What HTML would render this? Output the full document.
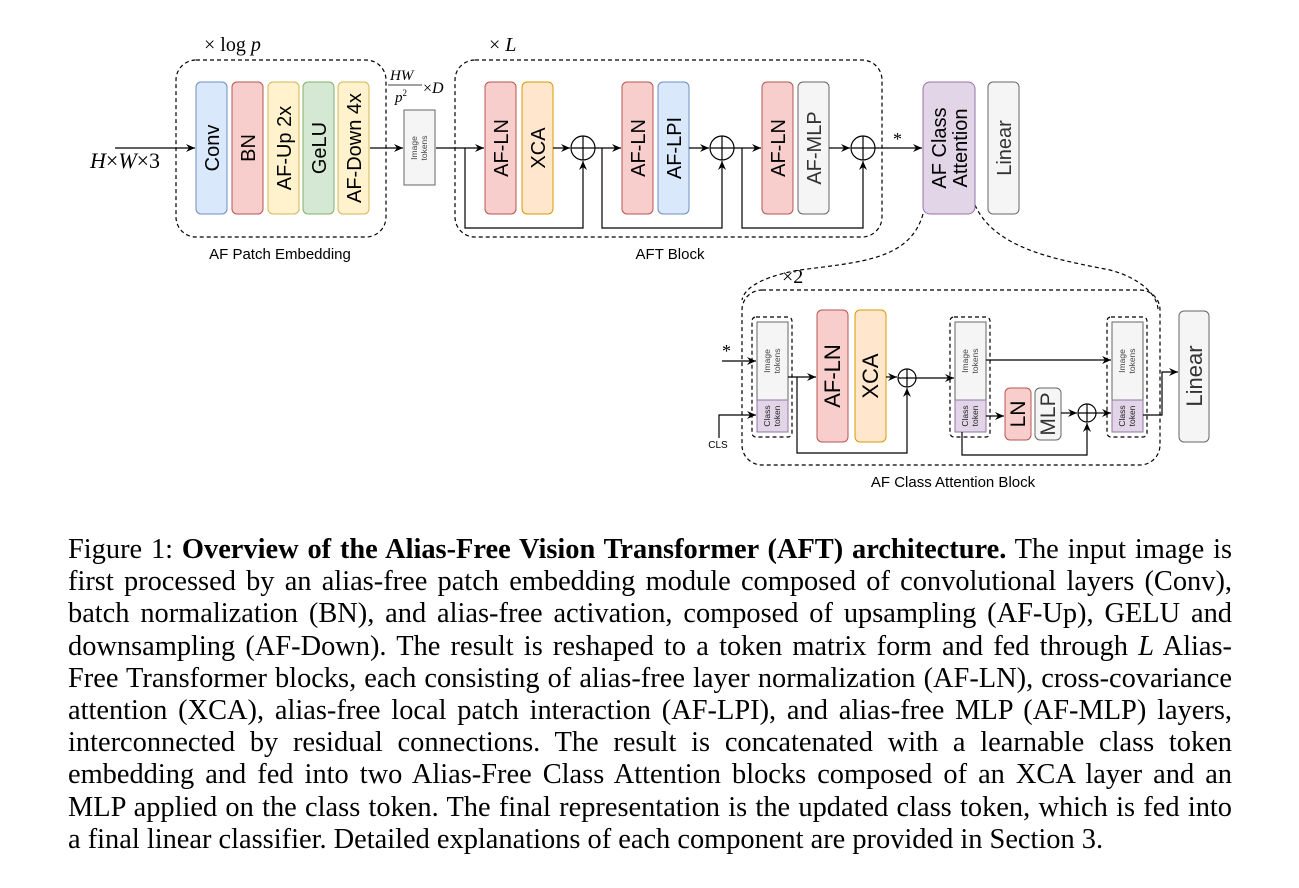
<!DOCTYPE html>
<html><head><meta charset="utf-8"><style>
body{margin:0;width:1299px;height:888px;background:#fff;position:relative;overflow:hidden}
svg{position:absolute;left:0;top:0}
.cap{position:absolute;left:68px;top:534px;width:1164px;font-family:"Liberation Serif",serif;font-size:28.4px;line-height:32.2px;color:#000}
.cap div{text-align:justify;text-align-last:justify;white-space:nowrap}
.cap div.l{text-align-last:left}
</style></head><body>
<svg width="1299" height="888" viewBox="0 0 1299 888" font-family="Liberation Sans, sans-serif">
<defs><marker id="a" markerWidth="10" markerHeight="10" refX="9" refY="5" orient="auto" markerUnits="userSpaceOnUse"><path d="M0,1 L9,5 L0,9 L3,5z" fill="#000"/></marker></defs>
<g fill="none" stroke="#000" stroke-width="1.2" stroke-dasharray="4,3">
<rect x="176" y="60" width="210" height="177" rx="20"/>
<rect x="455" y="60" width="427" height="177" rx="20"/>
<rect x="742" y="290" width="418" height="175" rx="20"/>
<rect x="752" y="317" width="40" height="120" rx="4"/>
<rect x="950" y="317" width="40" height="120" rx="4"/>
<rect x="1107" y="317" width="40" height="120" rx="4"/>
<path d="M923,214 C910,260 860,262 800,270 C770,275 745,285 742,300"/>
<path d="M975,205 C995,250 1060,260 1110,270 C1140,278 1158,295 1158,310"/>
</g>
<g stroke-width="1">
<rect x="196" y="82" width="31" height="132" rx="5" fill="#dae8fc" stroke="#6c8ebf"/>
<rect x="232" y="82" width="31" height="132" rx="5" fill="#f8cecc" stroke="#b85450"/>
<rect x="268" y="82" width="31" height="132" rx="5" fill="#fff2cc" stroke="#d6b656"/>
<rect x="303" y="82" width="31" height="132" rx="5" fill="#d5e8d4" stroke="#82b366"/>
<rect x="338" y="82" width="31" height="132" rx="5" fill="#fff2cc" stroke="#d6b656"/>
<rect x="404" y="110" width="31" height="75" fill="#f5f5f5" stroke="#666"/>
<rect x="485" y="82" width="31" height="132" rx="5" fill="#f8cecc" stroke="#b85450"/>
<rect x="522" y="82" width="31" height="132" rx="5" fill="#ffe6cc" stroke="#d79b00"/>
<rect x="622" y="82" width="31" height="132" rx="5" fill="#f8cecc" stroke="#b85450"/>
<rect x="658" y="82" width="31" height="132" rx="5" fill="#dae8fc" stroke="#6c8ebf"/>
<rect x="762" y="82" width="31" height="132" rx="5" fill="#f8cecc" stroke="#b85450"/>
<rect x="798" y="82" width="31" height="132" rx="5" fill="#f5f5f5" stroke="#666"/>
<rect x="923" y="82" width="52" height="132" rx="7" fill="#e1d5e7" stroke="#9673a6"/>
<rect x="988" y="82" width="31" height="132" rx="5" fill="#f5f5f5" stroke="#666"/>
<rect x="757" y="322" width="31" height="78" fill="#f5f5f5" stroke="#666"/>
<rect x="757" y="400" width="31" height="32" fill="#e1d5e7" stroke="#9673a6"/>
<rect x="955" y="322" width="31" height="78" fill="#f5f5f5" stroke="#666"/>
<rect x="955" y="400" width="31" height="32" fill="#e1d5e7" stroke="#9673a6"/>
<rect x="1112" y="322" width="31" height="78" fill="#f5f5f5" stroke="#666"/>
<rect x="1112" y="400" width="31" height="32" fill="#e1d5e7" stroke="#9673a6"/>
<rect x="817" y="310" width="31" height="132" rx="5" fill="#f8cecc" stroke="#b85450"/>
<rect x="855" y="310" width="31" height="132" rx="5" fill="#ffe6cc" stroke="#d79b00"/>
<rect x="1005" y="388" width="26" height="52" rx="5" fill="#f8cecc" stroke="#b85450"/>
<rect x="1035" y="388" width="26" height="52" rx="5" fill="#f5f5f5" stroke="#666"/>
<rect x="1179" y="311" width="30" height="131" rx="5" fill="#f5f5f5" stroke="#666"/>
</g>
<g fill="none" stroke="#000" stroke-width="1.2">
<circle cx="583" cy="148" r="12"/><path d="M571,148H595M583,136V160"/>
<circle cx="722" cy="148" r="12"/><path d="M710,148H734M722,136V160"/>
<circle cx="863" cy="148" r="12"/><path d="M851,148H875M863,136V160"/>
<circle cx="907" cy="378" r="9"/><path d="M898,378H916M907,369V387"/>
<circle cx="1087" cy="413" r="9"/><path d="M1078,413H1096M1087,404V422"/>
<path d="M115,148H195" marker-end="url(#a)"/>
<path d="M370,148H403" marker-end="url(#a)"/>
<path d="M436,148H484" marker-end="url(#a)"/>
<path d="M553,148H570" marker-end="url(#a)"/>
<path d="M465,148V228H583V161" marker-end="url(#a)"/>
<path d="M595,148H621" marker-end="url(#a)"/>
<path d="M689,148H709" marker-end="url(#a)"/>
<path d="M602,148V228H722V161" marker-end="url(#a)"/>
<path d="M734,148H761" marker-end="url(#a)"/>
<path d="M829,148H850" marker-end="url(#a)"/>
<path d="M742,148V228H863V161" marker-end="url(#a)"/>
<path d="M875,148H922" marker-end="url(#a)"/>
<path d="M722,361H756" marker-end="url(#a)"/>
<path d="M719,438V415H756" marker-end="url(#a)"/>
<path d="M788,377H816" marker-end="url(#a)"/>
<path d="M886,377H897" marker-end="url(#a)"/>
<path d="M797,377V453H907V388" marker-end="url(#a)"/>
<path d="M916,378H954" marker-end="url(#a)"/>
<path d="M986,360H1111" marker-end="url(#a)"/>
<path d="M986,416H1004" marker-end="url(#a)"/>
<path d="M1061,413H1077" marker-end="url(#a)"/>
<path d="M962,432V455H1087V423" marker-end="url(#a)"/>
<path d="M1096,413H1111" marker-end="url(#a)"/>
<path d="M1143,415H1162V372H1178" marker-end="url(#a)"/>
</g>
<g font-size="20" text-anchor="middle" fill="#000">
<text transform="translate(212,148) rotate(-90)" dy="7">Conv</text>
<text transform="translate(248,148) rotate(-90)" dy="7">BN</text>
<text transform="translate(284,148) rotate(-90)" dy="7">AF-Up 2x</text>
<text transform="translate(319,148) rotate(-90)" dy="7">GeLU</text>
<text transform="translate(354,148) rotate(-90)" dy="7">AF-Down 4x</text>
<text transform="translate(501,148) rotate(-90)" dy="7">AF-LN</text>
<text transform="translate(538,148) rotate(-90)" dy="7">XCA</text>
<text transform="translate(638,148) rotate(-90)" dy="7">AF-LN</text>
<text transform="translate(674,148) rotate(-90)" dy="7">AF-LPI</text>
<text transform="translate(778,148) rotate(-90)" dy="7">AF-LN</text>
<text transform="translate(814,148) rotate(-90)" dy="7" fill="#333">AF-MLP</text>
<text transform="translate(949,148) rotate(-90)" dy="-3">AF Class</text>
<text transform="translate(949,148) rotate(-90)" dy="18">Attention</text>
<text transform="translate(1004,148) rotate(-90)" dy="7" fill="#333">Linear</text>
<text transform="translate(833,376) rotate(-90)" dy="7" font-size="22">AF-LN</text>
<text transform="translate(871,376) rotate(-90)" dy="7" font-size="22">XCA</text>
<text transform="translate(1018,414) rotate(-90)" dy="7" font-size="21">LN</text>
<text transform="translate(1048,414) rotate(-90)" dy="7" font-size="21" fill="#333">MLP</text>
<text transform="translate(1194,376) rotate(-90)" dy="8" font-size="22" fill="#333">Linear</text>
</g>
<g font-size="8.5" text-anchor="middle" fill="#444">
<text transform="translate(419,148) rotate(-90)" dy="-2">Image</text><text transform="translate(419,148) rotate(-90)" dy="8">tokens</text>
<text transform="translate(772,361) rotate(-90)" dy="-2">Image</text><text transform="translate(772,361) rotate(-90)" dy="8">tokens</text>
<text transform="translate(970,361) rotate(-90)" dy="-2">Image</text><text transform="translate(970,361) rotate(-90)" dy="8">tokens</text>
<text transform="translate(1127,361) rotate(-90)" dy="-2">Image</text><text transform="translate(1127,361) rotate(-90)" dy="8">tokens</text>
<text transform="translate(772,416) rotate(-90)" dy="-2" fill="#222">Class</text><text transform="translate(772,416) rotate(-90)" dy="8" fill="#222">token</text>
<text transform="translate(970,416) rotate(-90)" dy="-2" fill="#222">Class</text><text transform="translate(970,416) rotate(-90)" dy="8" fill="#222">token</text>
<text transform="translate(1127,416) rotate(-90)" dy="-2" fill="#222">Class</text><text transform="translate(1127,416) rotate(-90)" dy="8" fill="#222">token</text>
</g>
<g font-size="15" text-anchor="middle" fill="#000">
<text x="280" y="259">AF Patch Embedding</text>
<text x="670" y="259">AFT Block</text>
<text x="953" y="487">AF Class Attention Block</text>
<text x="718" y="448" font-size="10">CLS</text>
</g>
<g font-family="Liberation Serif, serif" font-style="italic" fill="#000">
<text x="90" y="168" font-size="22">H<tspan font-style="normal">×</tspan>W<tspan font-style="normal">×3</tspan></text>
<text x="204" y="51" font-size="20"><tspan font-style="normal">× log </tspan>p</text>
<text x="489" y="51" font-size="20"><tspan font-style="normal">× </tspan>L</text>
<text x="782" y="283" font-size="20" font-style="normal">×2</text>
<text x="390" y="80" font-size="15">HW</text>
<path d="M388,85H422" stroke="#000" stroke-width="0.8"/>
<text x="395" y="102" font-size="15">p<tspan font-size="9" dy="-6" font-style="normal">2</tspan></text>
<text x="423" y="93" font-size="16"><tspan font-style="normal">×</tspan>D</text>
<text x="893" y="145" font-size="18" font-style="normal">*</text>
<text x="722" y="357" font-size="18" font-style="normal">*</text>
</g>
</svg>
<div class="cap">
<div>Figure 1: <b>Overview of the Alias-Free Vision Transformer (AFT) architecture.</b> The input image is</div>
<div>first processed by an alias-free patch embedding module composed of convolutional layers (Conv),</div>
<div>batch normalization (BN), and alias-free activation, composed of upsampling (AF-Up), GELU and</div>
<div>downsampling (AF-Down). The result is reshaped to a token matrix form and fed through <i>L</i> Alias-</div>
<div>Free Transformer blocks, each consisting of alias-free layer normalization (AF-LN), cross-covariance</div>
<div>attention (XCA), alias-free local patch interaction (AF-LPI), and alias-free MLP (AF-MLP) layers,</div>
<div>interconnected by residual connections. The result is concatenated with a learnable class token</div>
<div>embedding and fed into two Alias-Free Class Attention blocks composed of an XCA layer and an</div>
<div>MLP applied on the class token. The final representation is the updated class token, which is fed into</div>
<div class="l">a final linear classifier. Detailed explanations of each component are provided in Section 3.</div>
</div>
</body></html>
